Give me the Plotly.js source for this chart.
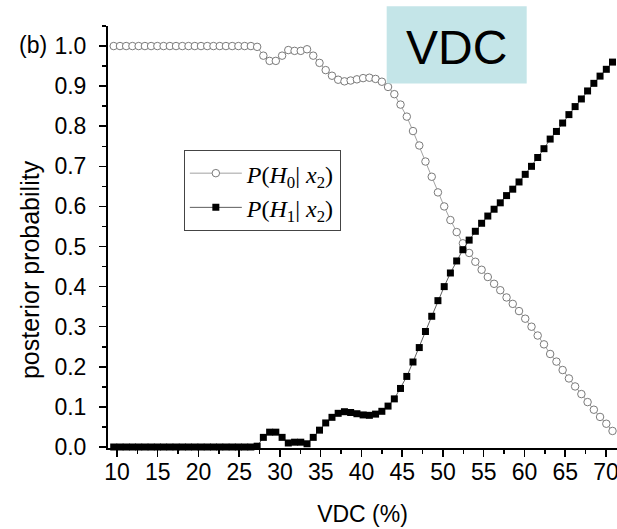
<!DOCTYPE html>
<html><head><meta charset="utf-8">
<script src="https://cdn.plot.ly/plotly-3.0.1.min.js"></script>
<style>html,body{margin:0;padding:0;background:#fff;}#chart{width:617px;height:529px;}</style>
</head><body><div id="chart"></div>
<script>
const vdc = [
  9.60, 10.37, 11.13, 11.90, 12.66, 13.43, 14.19, 14.96, 15.72, 16.49,
  17.25, 18.02, 18.78, 19.55, 20.31, 21.08, 21.84, 22.61, 23.37, 24.14,
  24.90, 25.67, 26.43, 27.20, 27.96, 28.73, 29.49, 30.26, 31.02, 31.79,
  32.55, 33.32, 34.08, 34.85, 35.61, 36.38, 37.14, 37.91, 38.67, 39.44,
  40.20, 40.97, 41.73, 42.50, 43.26, 44.03, 44.79, 45.56, 46.32, 47.09,
  47.85, 48.62, 49.38, 50.15, 50.91, 51.68, 52.44, 53.21, 53.97, 54.74,
  55.50, 56.27, 57.03, 57.80, 58.56, 59.33, 60.09, 60.86, 61.62, 62.39,
  63.15, 63.92, 64.68, 65.45, 66.21, 66.98, 67.74, 68.51, 69.27, 70.04,
  70.80
];
const pH0 = [
  1, 1, 1, 1, 1, 1, 1, 1, 1, 1,
  1, 1, 1, 1, 1, 1, 1, 1, 1, 1,
  1, 1, 1, 0.998, 0.976, 0.963, 0.963, 0.976, 0.990, 0.988,
  0.988, 0.992, 0.976, 0.958, 0.940, 0.926, 0.916, 0.912, 0.914, 0.917,
  0.920, 0.921, 0.918, 0.911, 0.898, 0.880, 0.854, 0.824, 0.788, 0.752,
  0.712, 0.674, 0.635, 0.600, 0.566, 0.536, 0.508, 0.484, 0.462, 0.442,
  0.424, 0.407, 0.391, 0.373, 0.357, 0.339, 0.320, 0.300, 0.278, 0.256,
  0.232, 0.213, 0.192, 0.171, 0.151, 0.132, 0.112, 0.093, 0.075, 0.058,
  0.040
];
const pH1 = [
  0, 0, 0, 0, 0, 0, 0, 0, 0, 0,
  0, 0, 0, 0, 0, 0, 0, 0, 0, 0,
  0, 0, 0, 0.002, 0.024, 0.037, 0.037, 0.024, 0.010, 0.012,
  0.012, 0.008, 0.024, 0.042, 0.060, 0.074, 0.084, 0.088, 0.086, 0.083,
  0.080, 0.079, 0.082, 0.089, 0.102, 0.120, 0.146, 0.176, 0.212, 0.248,
  0.288, 0.326, 0.365, 0.400, 0.434, 0.464, 0.492, 0.516, 0.538, 0.558,
  0.576, 0.593, 0.609, 0.627, 0.643, 0.661, 0.680, 0.700, 0.722, 0.744,
  0.768, 0.787, 0.808, 0.829, 0.849, 0.868, 0.888, 0.907, 0.925, 0.942,
  0.960
];
const xTicks = [10, 15, 20, 25, 30, 35, 40, 45, 50, 55, 60, 65, 70];
const yTicks = [0.0, 0.1, 0.2, 0.3, 0.4, 0.5, 0.6, 0.7, 0.8, 0.9, 1.0];
const seriesNames = [
  '<i>P</i>(<i>H</i><sub>0</sub>| <i>x</i><sub>2</sub>)',
  '<i>P</i>(<i>H</i><sub>1</sub>| <i>x</i><sub>2</sub>)'
];
const xTitle = 'VDC (%)';
const yTitle = 'posterior probability';
const panelLabel = '(b)';
const boxLabel = 'VDC';

const traces = [
  {
    x: vdc, y: pH0, type: 'scatter', mode: 'lines+markers', name: seriesNames[0],
    legendgroup: 'a', cliponaxis: false,
    line: {color: '#8a8a8a', width: 0.8},
    marker: {symbol: 'circle', size: 7.5, color: '#ffffff', line: {color: '#7a7a7a', width: 1}}
  },
  {
    x: vdc, y: pH1, type: 'scatter', mode: 'lines+markers', name: seriesNames[1],
    legendgroup: 'b', cliponaxis: false,
    line: {color: '#333333', width: 0.8},
    marker: {symbol: 'square', size: 7, color: '#000000', line: {width: 0}}
  }
];

const sans = 'Liberation Sans, Arial, sans-serif';
const axisFont = {family: sans, size: 23, color: '#000'};
const layout = {
  width: 617, height: 529,
  margin: {l: 108, r: 0, t: 26, b: 81},
  paper_bgcolor: '#fff', plot_bgcolor: '#fff',
  showlegend: true,
  legend: {
    x: 0.149, y: 0.706, xanchor: 'left', yanchor: 'top',
    bordercolor: '#444', borderwidth: 1, bgcolor: '#fff',
    font: {family: 'Liberation Serif, Times New Roman, serif', size: 24, color: '#000'},
    tracegroupgap: 0, itemwidth: 52
  },
  xaxis: {
    range: [8.9, 71.35], tickvals: xTicks, ticktext: xTicks.map(String),
    ticks: 'outside', ticklen: 7, tickwidth: 1.5, tickcolor: '#000',
    minor: {dtick: 2.5, tick0: 0, ticks: 'outside', ticklen: 4, tickwidth: 1.5, tickcolor: '#000'},
    showline: true, linecolor: '#000', linewidth: 2,
    showgrid: false, zeroline: false,
    tickfont: axisFont, ticklabelstandoff: -5, ticklabeloverflow: 'allow',
    title: {text: xTitle, font: {family: sans, size: 23, color: '#000'}, standoff: 22}
  },
  yaxis: {
    range: [-0.0025, 1.05], tickvals: yTicks, ticktext: yTicks.map(v => v.toFixed(1)),
    ticks: 'outside', ticklen: 7, tickwidth: 1.5, tickcolor: '#000',
    minor: {dtick: 0.05, tick0: 0, ticks: 'outside', ticklen: 4, tickwidth: 1.5, tickcolor: '#000'},
    showline: true, linecolor: '#000', linewidth: 2,
    showgrid: false, zeroline: false,
    tickfont: axisFont, ticklabelstandoff: 8, ticklabeloverflow: 'allow'
  },
  shapes: [
    {type: 'rect', xref: 'paper', yref: 'paper', x0: 0.5475, x1: 0.8226, y0: 0.864, y1: 1.047,
     fillcolor: '#c4e5e8', line: {width: 0}, layer: 'above'}
  ],
  annotations: [
    {text: boxLabel, xref: 'paper', yref: 'paper', x: 0.685, y: 0.950, xanchor: 'center', yanchor: 'middle',
     showarrow: false, font: {family: sans, size: 48, color: '#000'}},
    {text: panelLabel, xref: 'paper', yref: 'paper', x: -0.147, y: 0.955, xanchor: 'center', yanchor: 'middle',
     showarrow: false, font: {family: sans, size: 23, color: '#000'}},
    {text: yTitle, xref: 'paper', yref: 'paper', x: -0.153, y: 0.422, xanchor: 'center', yanchor: 'middle',
     textangle: -90, showarrow: false, font: {family: sans, size: 25, color: '#000'}}
  ]
};
Plotly.newPlot('chart', traces, layout, {staticPlot: true, displayModeBar: false});
</script>
</body></html>
